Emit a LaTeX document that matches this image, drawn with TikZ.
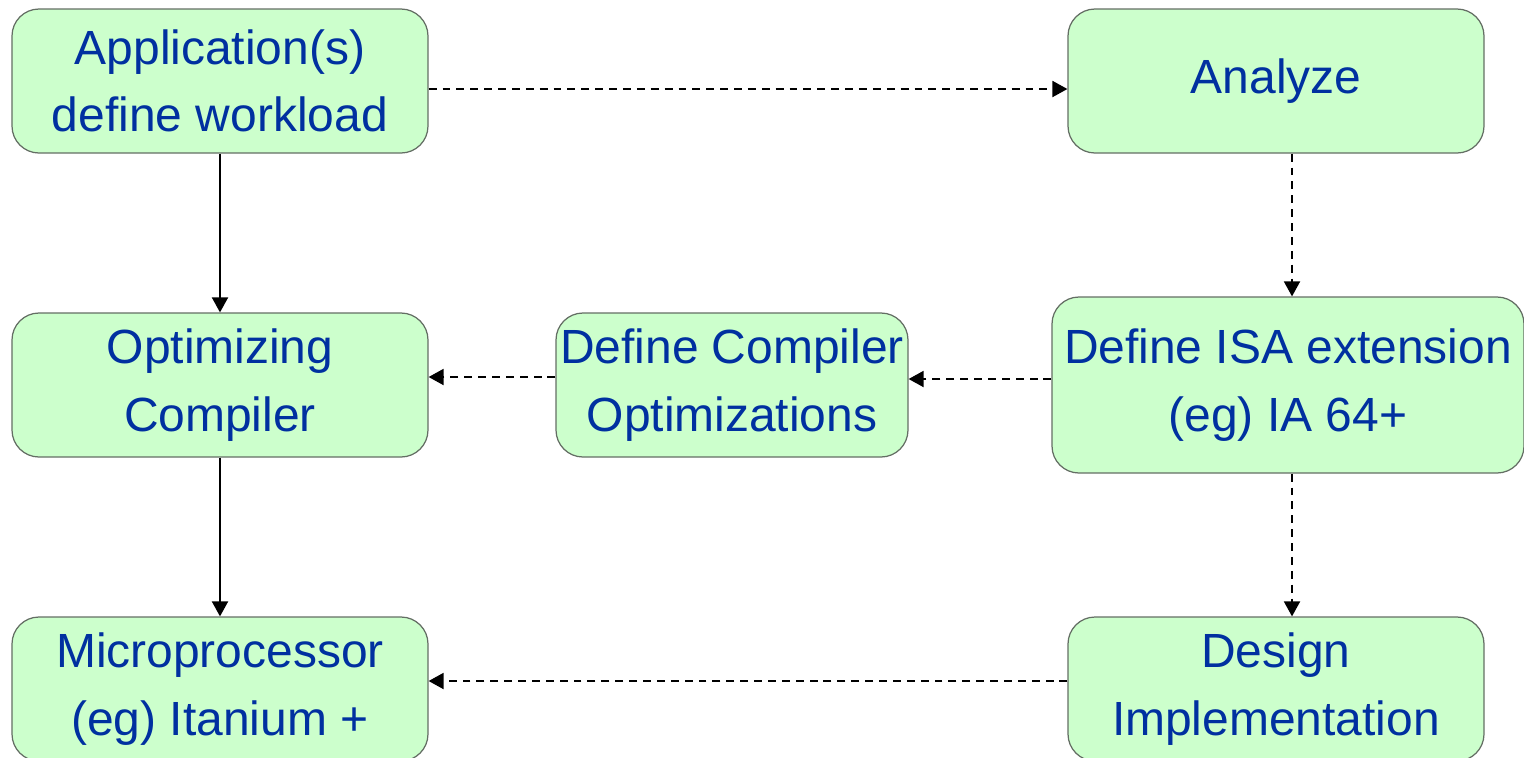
\documentclass[tikz,border=0pt]{standalone}
\usepackage{fontspec}
\setmainfont{Liberation Sans}
\usetikzlibrary{arrows.meta,positioning}

\definecolor{boxfill}{RGB}{204,255,204}
\definecolor{boxedge}{RGB}{100,110,100}
\definecolor{boxtext}{RGB}{0,48,160}

\tikzstyle{stage} = [rectangle, rounded corners=0.54cm, minimum width=8.32cm, minimum height=2.88cm, text centered, align=center, draw=boxedge, line width=0.7pt, fill=boxfill, text=boxtext, font=\fontsize{27.3}{38.5}\selectfont, inner sep=0pt]

\begin{document}
\begin{tikzpicture}[node distance=6.08cm, >={Triangle[length=0.3cm,width=0.32cm]}]
\useasboundingbox (0,0) rectangle (30.48,-15.14);

%Left column
\node (App) [stage] at (4.40,-1.62) {Application(s)\\define workload};
\node (Opt) [stage,below of=App] {Optimizing\\Compiler};
\node (Micro) [stage,below of=Opt] {Microprocessor\\(eg) Itanium +};

%Middle and right column
\node (DefComp) [stage,right of=Opt,xshift=4.16cm,minimum width=7.04cm] {Define Compiler\\Optimizations};
\node (ISA) [stage,right of=DefComp,xshift=5.04cm,minimum width=9.44cm,minimum height=3.52cm] {Define ISA extension\\(eg) IA 64+};
\node (Analyze) [stage,right of=App,xshift=15.04cm] {Analyze};
\node (Design) [stage,below of=ISA,xshift=-0.24cm] {Design\\Implementation};

%Arrow ends on the right column
\coordinate (ISAin) at ([xshift=0.08cm]ISA.north);
\coordinate (ISAout) at ([xshift=0.08cm]ISA.south);

%Arrows
\draw [->,line width=1.1pt] (App.south) -- (Opt.north);
\draw [->,line width=1.1pt] (Opt.south) -- (Micro.north);
\draw [->,line width=1.1pt,dash pattern=on 4.5pt off 3.4pt] ([yshift=-0.16cm]App.east) -- ([yshift=-0.16cm]Analyze.west);
\draw [->,line width=1.1pt,dash pattern=on 4.5pt off 3.4pt] (Analyze.south -| ISAin) -- (ISAin);
\draw [->,line width=1.1pt,dash pattern=on 4.5pt off 3.4pt] ([yshift=0.12cm]ISA.west) -- ([yshift=0.12cm]DefComp.east);
\draw [->,line width=1.1pt,dash pattern=on 4.5pt off 3.4pt] ([yshift=0.16cm]DefComp.west) -- ([yshift=0.16cm]Opt.east);
\draw [->,line width=1.1pt,dash pattern=on 4.5pt off 3.4pt] (ISAout) -- (ISAout |- Design.north);
\draw [->,line width=1.1pt,dash pattern=on 4.5pt off 3.4pt] ([yshift=0.16cm]Design.west) -- ([yshift=0.16cm]Micro.east);

\end{tikzpicture}
\end{document}
